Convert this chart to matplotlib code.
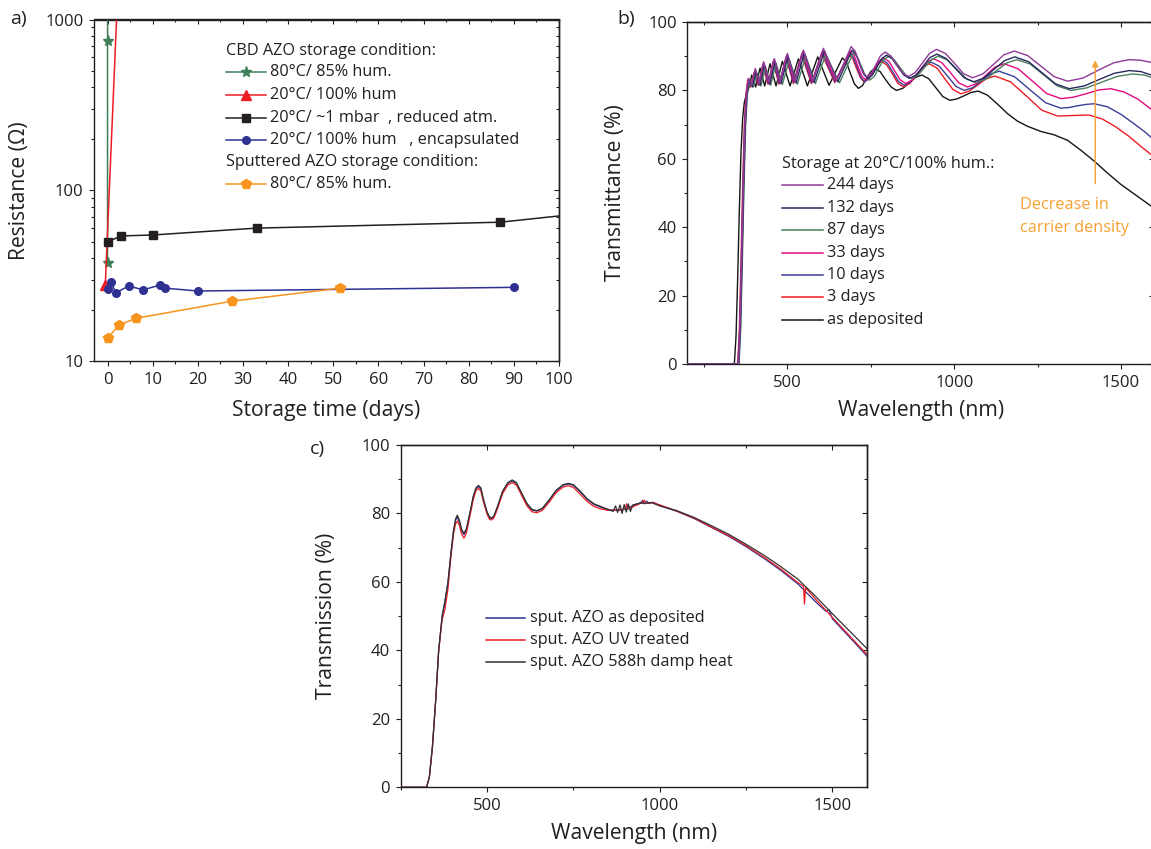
import matplotlib
matplotlib.use('Agg')
import matplotlib.pyplot as plt
from matplotlib.ticker import MultipleLocator, LogLocator, NullFormatter, FixedLocator

plt.rcParams['font.family'] = ['Open Sans', 'DejaVu Sans']
TXT = '#231f20'
for k in ['text.color', 'axes.labelcolor', 'xtick.color', 'ytick.color', 'axes.edgecolor']:
    plt.rcParams[k] = TXT

# ---------------- Panel a data: resistance vs storage time ----------------
a_green_x = [0, 0, 0.1]
a_green_y = [37.3, 748, 6000]
a_red_x = [-0.5, 3]
a_red_y = [27.9, 4200]
a_black_x = [0, 3, 10, 33, 87, 132]
a_black_y = [49.9, 54, 54.7, 60, 65.0, 87]
a_blue_x = [0, 0.74, 1.84, 4.7, 7.9, 11.7, 12.8, 20, 90]
a_blue_y = [26.3, 29.1, 25.1, 27.5, 26.1, 27.9, 26.7, 25.7, 27.0]
a_orange_x = [0, 2.6, 6.4, 27.5, 51.5]
a_orange_y = [13.6, 16.3, 17.8, 22.4, 26.7]
a_labels = ['80°C/ 85% hum.', '20°C/ 100% hum', '20°C/ ~1 mbar  , reduced atm.',
            '20°C/ 100% hum   , encapsulated', '80°C/ 85% hum.']
a_head1 = 'CBD AZO storage condition:'
a_head2 = 'Sputtered AZO storage condition:'

# ---------------- Panel b data: transmittance, storage at 20°C/100% hum ----------------
b244_x = [200, 353, 358, 363, 368, 373, 378, 384, 393, 404, 416, 429, 445, 461, 479, 500, 523, 548, 577, 608, 648, 691,
          703, 714, 726, 738, 752, 766, 779, 793, 810, 828, 845, 862, 883, 905, 926, 947, 974, 1001, 1028, 1055,
          1086, 1118, 1149, 1180, 1220, 1260, 1300, 1340, 1386, 1432, 1479, 1525, 1560, 1600]
b244_y = [0, 0, 10, 30, 52, 70, 79, 83.5, 81.5, 86.4, 82, 88.4, 82.3, 89.3, 82.5, 90.8, 82.7, 91.8, 82.8, 92.3, 83, 92.8,
          91.5, 88.4, 85.3, 84, 85.1, 87.6, 90.1, 91.2, 90.1, 87.6, 85.1, 84, 85.2, 88, 90.8, 92, 90.8, 87.9, 84.9, 83.7,
          84.8, 87.6, 90.4, 91.5, 90.2, 87.1, 84, 82.7, 83.6, 85.9, 88.1, 89, 88.8, 88]
b132_x = [200, 354, 359, 364, 369, 374, 379, 386, 395, 406, 418, 431, 447, 463, 481, 502, 526, 551, 580, 611, 651, 694,
          706, 717, 729, 741, 755, 769, 783, 797, 814, 831, 849, 866, 886, 907, 927, 948, 975, 1003, 1030, 1058,
          1089, 1120, 1151, 1182, 1223, 1263, 1304, 1345, 1390, 1435, 1480, 1525, 1560, 1600]
b132_y = [0, 0, 10, 30, 52, 70, 79, 83, 81, 85.6, 81.5, 87.6, 81.8, 88.5, 82, 90, 82.2, 91, 82.3, 91.5, 82.5, 91.8,
          90.6, 87.6, 84.7, 83.5, 84.5, 86.9, 89.3, 90.3, 89.3, 86.9, 84.5, 83.5, 84.5, 87, 89.6, 90.6, 89.4, 86.5, 83.7, 82.5,
          83.6, 86.2, 88.7, 89.8, 88.4, 85.2, 81.9, 80.5, 81.3, 83.2, 85, 85.8, 85.5, 84.2]
b87_x = [200, 355, 360, 365, 370, 375, 380, 389, 398, 409, 421, 434, 450, 466, 485, 506, 530, 555, 584, 615, 656, 698,
         710, 722, 734, 746, 760, 774, 789, 803, 820, 837, 855, 872, 892, 912, 932, 952, 980, 1008, 1037, 1065,
         1096, 1126, 1157, 1188, 1228, 1269, 1309, 1350, 1396, 1442, 1489, 1535, 1570, 1600]
b87_y = [0, 0, 10, 30, 52, 70, 79, 82.5, 81, 85, 81.3, 87, 81.5, 88, 81.7, 89, 81.8, 90, 82, 90.5, 82.2, 91,
         89.8, 87, 84.2, 83, 84, 86.5, 89, 90, 89, 86.8, 84.5, 83.5, 84.5, 86.8, 89, 90, 88.9, 86.2, 83.4, 82.3,
         83.3, 85.7, 88, 89, 87.7, 84.5, 81.3, 80, 80.7, 82.4, 84.1, 84.8, 84.5, 83.5]
b33_x = [200, 353, 358, 363, 368, 373, 378, 383, 392, 403, 415, 428, 444, 460, 478, 499, 521, 546, 575, 606, 645, 688,
         700, 711, 723, 735, 748, 761, 775, 788, 805, 821, 838, 855, 876, 896, 917, 938, 963, 989, 1014, 1040,
         1067, 1095, 1122, 1150, 1192, 1235, 1277, 1320, 1357, 1395, 1432, 1470, 1510, 1550, 1600]
b33_y = [0, 0, 10, 30, 52, 70, 79, 83.5, 81.5, 86, 82, 88, 82.2, 89, 82.3, 90.5, 82.5, 91.3, 82.5, 91.7, 82.8, 91.5,
         90.3, 87.2, 84.2, 83, 84, 86.2, 88.5, 89.5, 88.4, 85.8, 83.1, 82, 83.1, 85.6, 88.2, 89.3, 88.1, 85.2, 82.2, 81,
         82, 84.4, 86.8, 87.8, 86.3, 82.7, 79.1, 77.6, 78, 79, 80.1, 80.5, 79.5, 77.5, 73.8]
b10_x = [200, 352, 357, 362, 367, 372, 377, 382, 391, 402, 414, 427, 443, 458, 476, 497, 519, 544, 573, 604, 643, 686,
         697, 709, 720, 732, 745, 758, 771, 784, 800, 817, 833, 850, 870, 890, 910, 930, 955, 980, 1005, 1030,
         1056, 1082, 1109, 1135, 1181, 1227, 1274, 1320, 1345, 1370, 1395, 1420, 1460, 1500, 1540, 1570, 1600]
b10_y = [0, 0, 10, 30, 52, 70, 79, 83, 81.3, 85.5, 81.7, 87.5, 82, 88.5, 82, 90, 82.2, 90.8, 82.2, 91.2, 82.5, 91,
         89.8, 86.8, 83.8, 82.5, 83.5, 85.8, 88, 89, 87.9, 85.2, 82.6, 81.5, 82.5, 84.9, 87.3, 88.3, 87.1, 84.2, 81.2, 80,
         80.8, 82.8, 84.8, 85.6, 84, 80.2, 76.4, 74.8, 75, 75.5, 75.9, 76.1, 75.2, 73, 70.2, 68, 65.5]
b3_x = [200, 351, 356, 361, 366, 371, 376, 381, 390, 401, 413, 426, 442, 457, 475, 496, 518, 543, 572, 603, 642, 685,
        696, 707, 719, 730, 743, 756, 769, 782, 798, 815, 831, 848, 867, 886, 906, 925, 949, 972, 996, 1020,
        1045, 1071, 1096, 1122, 1169, 1216, 1263, 1310, 1340, 1370, 1405, 1445, 1485, 1525, 1560, 1600]
b3_y = [0, 0, 10, 30, 52, 70, 79, 83, 81, 85.3, 81.5, 87.3, 81.8, 88.3, 81.8, 89.7, 82, 90.5, 82, 90.8, 82.3, 90.5,
        89.3, 86.5, 83.7, 82.5, 83.4, 85.5, 87.6, 88.5, 87.4, 84.8, 82.1, 81, 82, 84.4, 86.8, 87.8, 86.5, 83.4, 80.3, 79,
        79.8, 81.6, 83.4, 84.2, 82.5, 78.4, 74.2, 72.5, 72.6, 72.7, 72.8, 71.6, 69.3, 66.5, 63.6, 60.5]
b0_x = [200, 341, 346, 351, 356, 361, 366, 371, 376, 382, 386, 393, 405, 418, 432, 448, 466, 485, 508, 533, 560, 591,
        625, 665, 677, 689, 701, 713, 725, 737, 750, 762, 778, 794, 811, 827, 846, 865, 884, 903, 924, 945, 966, 987,
        1008, 1029, 1051, 1072, 1100, 1130, 1160, 1190, 1220, 1260, 1300, 1340, 1380, 1420, 1460, 1500, 1550, 1600]
b0_y = [0, 0, 8, 25, 45, 62, 72, 76.5, 78.5, 80.5, 81, 84.5, 81, 86.5, 81.3, 87.8, 81.3, 88.5, 81.3, 89.2, 81.3, 89.8,
        81.5, 89.5, 88.2, 85, 81.9, 80.6, 81.4, 83.5, 85.5, 86.4, 85.5, 83.2, 81, 80, 80.6, 82.2, 83.8, 84.5, 83.4, 80.8,
        78.2, 77.1, 77.5, 78.4, 79.4, 79.8, 78.6, 76, 73.2, 71, 69.5, 68, 67, 65.4, 62.5, 59.3, 55.8, 52.5, 49, 45.5]
b_labels = ['244 days', '132 days', '87 days', '33 days', '10 days', '3 days', 'as deposited']
b_title = 'Storage at 20°C/100% hum.:'

# ---------------- Panel c data: sputtered AZO transmission ----------------
c_dep_x = [250, 325, 333, 342, 351, 360, 370, 378, 387, 395, 403, 409, 414, 420, 426, 433, 440, 450, 460, 468,
           475, 482, 490, 500, 507, 513, 520, 530, 545, 560, 573, 585, 600, 615, 630, 644, 660, 680, 700, 720,
           735, 750, 770, 790, 810, 830, 850, 880, 900, 930, 945, 950, 955, 962, 970, 980, 1000, 1050, 1100, 1150,
           1200, 1250, 1300, 1350, 1400, 1450, 1480, 1490, 1500, 1550, 1600]
c_dep_y = [0, 0, 3, 12, 25, 40, 50, 54.5, 60, 68, 75, 78, 79, 77.5, 75, 73.8, 75, 79.8, 84.8, 87.3,
           87.9, 87.2, 83.7, 80.2, 78.7, 78.5, 79.1, 81.8, 86.3, 88.8, 89.5, 88.8, 85.8, 82.8, 81, 80.7, 81.4, 83.8, 86.6, 88.2,
           88.6, 88.2, 86.3, 84.1, 82.6, 81.8, 81.1, 80.9, 81.3, 82.6, 83.2, 83.8, 82.8, 83.6, 82.9, 83.3, 82.3, 80.6, 78.5, 75.9,
           73.3, 70.3, 67, 63.4, 59.4, 54.3, 51.5, 51.8, 49.2, 43.8, 38.3]
c_uv_x = [250, 325, 333, 342, 351, 360, 370, 378, 387, 395, 403, 409, 414, 420, 426, 433, 440, 450, 460, 468,
          475, 482, 490, 500, 507, 513, 520, 530, 545, 560, 573, 585, 600, 615, 630, 644, 660, 680, 700, 720,
          735, 750, 770, 790, 810, 830, 850, 880, 900, 904, 908, 930, 950, 955, 960, 980, 1000, 1050, 1100, 1150,
          1200, 1250, 1300, 1350, 1400, 1416, 1419, 1422, 1450, 1500, 1550, 1600]
c_uv_y = [0, 0, 3, 12, 25, 40, 49, 52, 58, 67, 74, 77, 77.8, 76.5, 74, 72.8, 74.2, 79, 84, 86.7,
          87.3, 86.6, 83.2, 79.8, 78.3, 78.1, 78.7, 81.3, 85.8, 88.3, 89, 88.3, 85.3, 82.3, 80.5, 80.2, 80.9, 83.3, 86.1, 87.7,
          88.1, 87.6, 85.6, 83.5, 82, 81.3, 80.9, 81, 81.3, 82.8, 81.3, 82.3, 83.2, 83.9, 82.9, 83.2, 82.5, 80.7, 78.6, 76,
          73.5, 70.6, 67.3, 63.8, 59.8, 58.7, 53.5, 58.3, 55.1, 49.6, 44.2, 38.8]
c_dh_x = [250, 325, 333, 342, 351, 360, 370, 378, 387, 395, 403, 409, 414, 420, 426, 433, 440, 450, 460, 468,
          475, 482, 490, 500, 507, 513, 520, 530, 545, 560, 573, 585, 600, 615, 630, 644, 660, 680, 700, 720,
          735, 750, 770, 790, 810, 830, 850, 865, 872, 878, 885, 891, 897, 903, 909, 915, 922, 930, 945, 960,
          975, 990, 1000, 1050, 1100, 1150, 1200, 1250, 1300, 1350, 1400, 1450, 1500, 1550, 1600]
c_dh_y = [0, 0, 3, 12, 25, 40, 50, 54, 60, 68, 75, 78.5, 79.5, 78, 75.5, 74.2, 75.5, 80, 85, 87.5,
          88.2, 87.5, 84, 80.5, 79, 78.7, 79.3, 82, 86.5, 89, 89.8, 89, 86, 83, 81.2, 80.8, 81.5, 84, 86.8, 88.4,
          88.8, 88.4, 86.5, 84.3, 82.8, 82, 81.2, 80.6, 82.2, 80.3, 82.5, 80, 82.6, 80.4, 82.8, 80.6, 82.5, 82.7, 83, 83,
          83.2, 82.6, 82.2, 80.8, 78.8, 76.4, 73.9, 71, 67.9, 64.5, 60.8, 55.9, 50.7, 45.6, 40.5]
c_labels = ['sput. AZO as deposited', 'sput. AZO UV treated', 'sput. AZO 588h damp heat']

# ---------------- colours ----------------
A_COL = ['#3f7f58', '#ed1c24', '#231f20', '#2e3192', '#f7941d']
B_COL = ['#8f3a98', '#262a5e', '#4b7f5e', '#e5097f', '#3b3f9a', '#ed1c24', '#151515']
C_COL = ['#2e3192', '#ed1c24', '#333333']
ORANGE = '#f7a033'

W, H = 1151, 849
fig = plt.figure(figsize=(W / 100, H / 100), dpi=100)
axA = fig.add_axes([94 / W, 1 - 361 / H, 465 / W, 341.5 / H])
axB = fig.add_axes([687.3 / W, 1 - 364 / H, 467 / W, 342 / H])
axC = fig.add_axes([400.7 / W, 1 - 787.3 / H, 466.3 / W, 342.3 / H])

TICK_FS = 12
LAB_FS = 15.2
LEG_FS = 11.7


def base_style(ax):
    ax.tick_params(which='both', direction='out', top=False, right=False, width=0.8,
                   labelsize=TICK_FS, colors=TXT)
    ax.tick_params(which='major', length=3.6, pad=4)
    ax.tick_params(which='minor', length=2.3)
    for s in ax.spines.values():
        s.set_linewidth(1.0)
        s.set_color(TXT)


def mirror(ax, xmaj, xmin, ymaj, ymin):
    sx = ax.secondary_xaxis('top')
    sx.set_xticks(xmaj)
    sx.xaxis.set_minor_locator(FixedLocator(xmin))
    sx.tick_params(which='both', direction='in', labeltop=False, width=0.8, colors=TXT)
    sx.tick_params(which='major', length=3.6)
    sx.tick_params(which='minor', length=2.3)
    sx.spines['top'].set_linewidth(1.0)
    sy = ax.secondary_yaxis('right')
    sy.set_yticks(ymaj)
    sy.yaxis.set_minor_locator(FixedLocator(ymin))
    sy.tick_params(which='both', direction='in', labelright=False, width=0.8, colors=TXT)
    sy.tick_params(which='major', length=3.6)
    sy.tick_params(which='minor', length=2.3)
    sy.spines['right'].set_linewidth(1.0)
    sy.yaxis.set_minor_formatter(NullFormatter())
    sx.xaxis.set_minor_formatter(NullFormatter())


# ================= Panel a =================
ax = axA
base_style(ax)
ax.set_yscale('log')
ax.set_xlim(-3, 100)
ax.set_ylim(10, 1000)
ax.set_xticks(range(0, 101, 10))
ax.xaxis.set_minor_locator(MultipleLocator(5))
ax.set_yticks([10, 100, 1000], labels=['10', '100', '1000'])
ax.yaxis.set_minor_locator(LogLocator(base=10, subs=range(2, 10)))
ax.yaxis.set_minor_formatter(NullFormatter())
a_minor_y = [m * d for d in (10, 100) for m in range(2, 10)]
mirror(ax, list(range(0, 101, 10)), list(range(5, 100, 10)), [10, 100, 1000], a_minor_y)

ax.plot(a_green_x, a_green_y, color=A_COL[0], lw=1.1, marker='*', ms=8, markevery=[0, 1], zorder=3)
ax.plot(a_red_x, a_red_y, color=A_COL[1], lw=1.1, marker='^', ms=7, markevery=[0], zorder=3)
ax.plot(a_black_x, a_black_y, color=A_COL[2], lw=1.1, marker='s', ms=6, zorder=3)
ax.plot(a_blue_x, a_blue_y, color=A_COL[3], lw=1.1, marker='o', ms=5.5, zorder=3)
ax.plot(a_orange_x, a_orange_y, color=A_COL[4], lw=1.1, marker='p', ms=7, zorder=3)

leg_rows_a = [10 ** 2.692, 10 ** 2.559, 10 ** 2.425, 10 ** 2.296, 10 ** 2.039]
markers_a = ['*', '^', 's', 'o', 'p']
msizes_a = [8, 7, 6, 5.5, 7]
ax.text(26.3, 10 ** 2.815, a_head1, fontsize=LEG_FS, va='center', ha='left')
ax.text(26.3, 10 ** 2.166, a_head2, fontsize=LEG_FS, va='center', ha='left')
for y, c, m, ms, lab in zip(leg_rows_a, A_COL, markers_a, msizes_a, a_labels):
    ax.plot([26.3, 35.1], [y, y], color=c, lw=1.1)
    ax.plot([30.7], [y], color=c, marker=m, ms=ms, ls='none')
    ax.text(36.0, y, lab, fontsize=LEG_FS, va='center', ha='left')

ax.set_xlabel('Storage time (days)', fontsize=LAB_FS)
ax.set_ylabel('Resistance (\u03a9)', fontsize=LAB_FS)
ax.xaxis.set_label_coords(0.5, -0.146)
ax.xaxis.label.set_va('center')
ax.yaxis.set_label_coords(-0.161, 0.5)
ax.yaxis.label.set_va('center')

# ================= Panel b =================
ax = axB
base_style(ax)
ax.set_xlim(200, 1600)
ax.set_ylim(0, 100)
ax.xaxis.set_major_locator(FixedLocator([500, 1000, 1500]))
ax.xaxis.set_minor_locator(FixedLocator([250, 750, 1250]))
ax.yaxis.set_major_locator(MultipleLocator(20))
ax.yaxis.set_minor_locator(MultipleLocator(10))
mirror(ax, [500, 1000, 1500], [250, 750, 1250], list(range(0, 101, 20)), list(range(10, 100, 20)))

b_series = [(b244_x, b244_y), (b132_x, b132_y), (b87_x, b87_y), (b33_x, b33_y),
            (b10_x, b10_y), (b3_x, b3_y), (b0_x, b0_y)]
for (xs, ys), c, z in zip(b_series[::-1], B_COL[::-1], range(7)):
    ax.plot(xs, ys, color=c, lw=1.0, zorder=2 + z * 0.1, solid_joinstyle='round')

ax.text(484, 58.6, b_title, fontsize=LEG_FS, va='center', ha='left')
leg_rows_b = [52.2, 45.7, 39.1, 32.5, 26.1, 19.5, 13.0]
for y, c, lab in zip(leg_rows_b, B_COL, b_labels):
    ax.plot([484, 606], [y, y], color=c, lw=1.1)
    ax.text(619, y, lab, fontsize=LEG_FS, va='center', ha='left')

ax.annotate('', xy=(1423, 88.8), xytext=(1423, 52.7),
            arrowprops=dict(arrowstyle='-|>', color=ORANGE, lw=1.0, mutation_scale=9,
                            shrinkA=0, shrinkB=0))
ax.text(1198, 46.6, 'Decrease in', fontsize=LEG_FS, color=ORANGE, va='center', ha='left')
ax.text(1198, 39.8, 'carrier density', fontsize=LEG_FS, color=ORANGE, va='center', ha='left')

ax.set_xlabel('Wavelength (nm)', fontsize=LAB_FS)
ax.set_ylabel('Transmittance (%)', fontsize=LAB_FS)
ax.xaxis.set_label_coords(0.5, -0.135)
ax.xaxis.label.set_va('center')
ax.yaxis.set_label_coords(-0.153, 0.5)
ax.yaxis.label.set_va('center')

# ================= Panel c =================
ax = axC
base_style(ax)
ax.set_xlim(250, 1600)
ax.set_ylim(0, 100)
ax.xaxis.set_major_locator(FixedLocator([500, 1000, 1500]))
ax.xaxis.set_minor_locator(FixedLocator([250, 750, 1250]))
ax.yaxis.set_major_locator(MultipleLocator(20))
ax.yaxis.set_minor_locator(MultipleLocator(10))
mirror(ax, [500, 1000, 1500], [250, 750, 1250], list(range(0, 101, 20)), list(range(10, 100, 20)))

c_series = [(c_dep_x, c_dep_y), (c_uv_x, c_uv_y), (c_dh_x, c_dh_y)]
for (xs, ys), c in zip(c_series, C_COL):
    ax.plot(xs, ys, color=c, lw=0.9, solid_joinstyle='round')

leg_rows_c = [49.4, 43.1, 36.6]
for y, c, lab in zip(leg_rows_c, C_COL, c_labels):
    ax.plot([498, 610], [y, y], color=c, lw=1.1)
    ax.text(624, y, lab, fontsize=LEG_FS, va='center', ha='left')

ax.set_xlabel('Wavelength (nm)', fontsize=LAB_FS)
ax.set_ylabel('Transmission (%)', fontsize=LAB_FS)
ax.xaxis.set_label_coords(0.5, -0.134)
ax.xaxis.label.set_va('center')
ax.yaxis.set_label_coords(-0.160, 0.5)
ax.yaxis.label.set_va('center')

# panel letters
fig.text(18 / W, 1 - 19 / H, 'a)', fontsize=14, ha='center', va='center')
fig.text(626 / W, 1 - 19 / H, 'b)', fontsize=14, ha='center', va='center')
fig.text(317 / W, 1 - 449 / H, 'c)', fontsize=14, ha='center', va='center')

fig.savefig('out.png', dpi=100)
